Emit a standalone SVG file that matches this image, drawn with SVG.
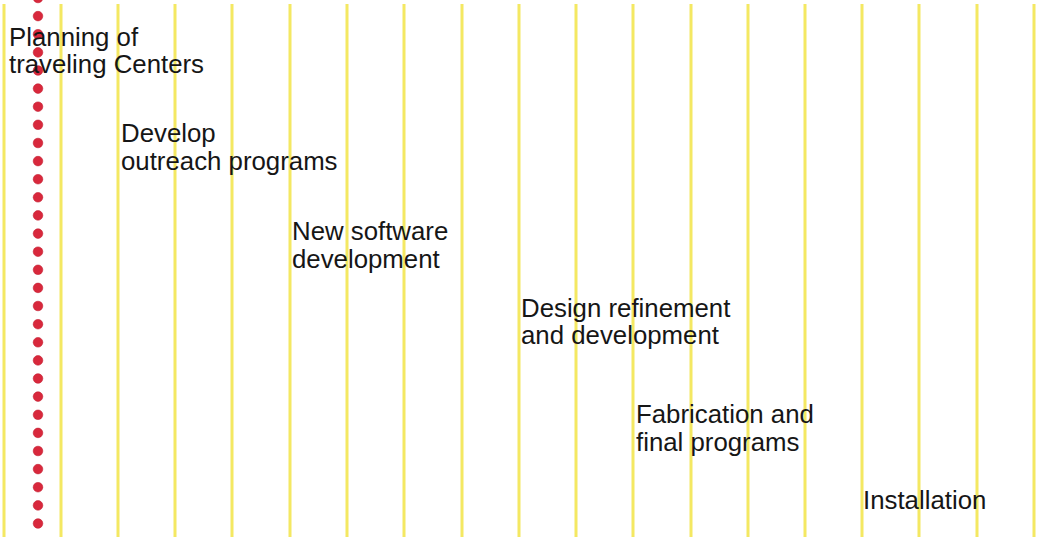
<svg xmlns="http://www.w3.org/2000/svg" width="1038" height="538" viewBox="0 0 1038 538">
<style>
.grid line{stroke:#f4e862;stroke-width:3}
.dot{fill:#d8283c;stroke:#c41e30;stroke-width:0.6}
.lbl{font-family:"Liberation Sans",Arial,sans-serif;font-size:25.8px;fill:#161616}
</style>
<rect width="1038" height="538" fill="#ffffff"/>
<g id="grid" class="grid">
<line x1="4" y1="4" x2="4" y2="537"/>
<line x1="61" y1="4" x2="61" y2="537"/>
<line x1="118" y1="4" x2="118" y2="537"/>
<line x1="175" y1="4" x2="175" y2="537"/>
<line x1="232" y1="4" x2="232" y2="537"/>
<line x1="290" y1="4" x2="290" y2="537"/>
<line x1="347" y1="4" x2="347" y2="537"/>
<line x1="404" y1="4" x2="404" y2="537"/>
<line x1="462" y1="4" x2="462" y2="537"/>
<line x1="519" y1="4" x2="519" y2="537"/>
<line x1="576" y1="4" x2="576" y2="537"/>
<line x1="633" y1="4" x2="633" y2="537"/>
<line x1="691" y1="4" x2="691" y2="537"/>
<line x1="748" y1="4" x2="748" y2="537"/>
<line x1="805" y1="4" x2="805" y2="537"/>
<line x1="862" y1="4" x2="862" y2="537"/>
<line x1="919" y1="4" x2="919" y2="537"/>
<line x1="977" y1="4" x2="977" y2="537"/>
<line x1="1034" y1="4" x2="1034" y2="537"/>
</g>
<g id="dotted-line">
<circle class="dot" cx="38" cy="-2" r="4.8"/>
<circle class="dot" cx="38" cy="16.1" r="4.8"/>
<circle class="dot" cx="38" cy="34.2" r="4.8"/>
<circle class="dot" cx="38" cy="52.4" r="4.8"/>
<circle class="dot" cx="38" cy="70.5" r="4.8"/>
<circle class="dot" cx="38" cy="88.6" r="4.8"/>
<circle class="dot" cx="38" cy="106.7" r="4.8"/>
<circle class="dot" cx="38" cy="124.8" r="4.8"/>
<circle class="dot" cx="38" cy="143.0" r="4.8"/>
<circle class="dot" cx="38" cy="161.1" r="4.8"/>
<circle class="dot" cx="38" cy="179.2" r="4.8"/>
<circle class="dot" cx="38" cy="197.3" r="4.8"/>
<circle class="dot" cx="38" cy="215.4" r="4.8"/>
<circle class="dot" cx="38" cy="233.6" r="4.8"/>
<circle class="dot" cx="38" cy="251.7" r="4.8"/>
<circle class="dot" cx="38" cy="269.8" r="4.8"/>
<circle class="dot" cx="38" cy="287.9" r="4.8"/>
<circle class="dot" cx="38" cy="306.0" r="4.8"/>
<circle class="dot" cx="38" cy="324.2" r="4.8"/>
<circle class="dot" cx="38" cy="342.3" r="4.8"/>
<circle class="dot" cx="38" cy="360.4" r="4.8"/>
<circle class="dot" cx="38" cy="378.5" r="4.8"/>
<circle class="dot" cx="38" cy="396.6" r="4.8"/>
<circle class="dot" cx="38" cy="414.8" r="4.8"/>
<circle class="dot" cx="38" cy="432.9" r="4.8"/>
<circle class="dot" cx="38" cy="451.0" r="4.8"/>
<circle class="dot" cx="38" cy="469.1" r="4.8"/>
<circle class="dot" cx="38" cy="487.2" r="4.8"/>
<circle class="dot" cx="38" cy="505.4" r="4.8"/>
<circle class="dot" cx="38" cy="523.5" r="4.8"/>
</g>
<g id="planning"><text class="lbl" x="9" y="45.5">Planning of</text><text class="lbl" x="9" y="73">traveling Centers</text></g>
<g id="outreach"><text class="lbl" x="121" y="142">Develop</text><text class="lbl" x="121" y="170">outreach programs</text></g>
<g id="software"><text class="lbl" x="292" y="240">New software</text><text class="lbl" x="292" y="268">development</text></g>
<g id="design"><text class="lbl" x="521" y="316.5">Design refinement</text><text class="lbl" x="521" y="344">and development</text></g>
<g id="fabrication"><text class="lbl" x="636" y="423">Fabrication and</text><text class="lbl" x="636" y="450.5">final programs</text></g>
<g id="installation"><text class="lbl" x="863" y="508.5">Installation</text></g>
</svg>
